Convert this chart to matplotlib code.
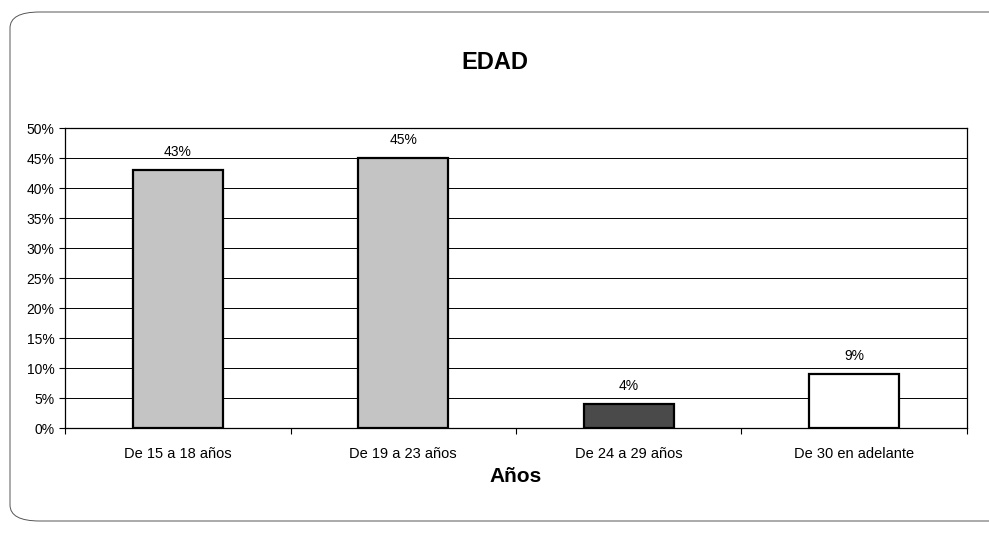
import matplotlib
matplotlib.use("Agg")
import matplotlib.pyplot as plt
from matplotlib.patches import FancyBboxPatch
from matplotlib.ticker import FixedLocator, PercentFormatter

plt.rcParams["font.family"] = ["Liberation Sans", "DejaVu Sans"]

categories = ["De 15 a 18 años", "De 19 a 23 años", "De 24 a 29 años", "De 30 en adelante"]
values = [43, 45, 4, 9]
labels = ["43%", "45%", "4%", "9%"]
bar_colors = ["#c4c4c4", "#c4c4c4", "#4a4a4a", "#ffffff"]
y_ticks = [0, 5, 10, 15, 20, 25, 30, 35, 40, 45, 50]

fig = plt.figure(figsize=(9.89, 5.35), dpi=100)
ax = fig.add_axes([65 / 989, 1 - 428 / 535, 902 / 989, 300 / 535])

# outer chart frame with rounded corners
frame = FancyBboxPatch(
    (10 / 989, 14 / 535), 1.2, 1 - 26 / 535,
    boxstyle="round,pad=0,rounding_size=0.03",
    transform=fig.transFigure, fill=False, edgecolor="#555555", linewidth=0.7,
    clip_on=False,
)
fig.patches.append(frame)

x = list(range(len(categories)))
ax.bar(x, values, width=0.4, color=bar_colors, edgecolor="black", linewidth=1.6, zorder=3)

for xi, v, lab in zip(x, values, labels):
    ax.text(xi, v + 1.8, lab, ha="center", va="bottom", fontsize=10, zorder=4)

ax.set_xlim(-0.5, 3.5)
ax.set_ylim(0, 50)
ax.yaxis.set_major_locator(FixedLocator(y_ticks))
ax.yaxis.set_major_formatter(PercentFormatter(decimals=0))
ax.grid(axis="y", color="black", linewidth=0.7, zorder=0)

ax.set_xticks(x)
ax.set_xticklabels(categories, fontsize=10.5)
ax.xaxis.set_minor_locator(FixedLocator([-0.5, 0.5, 1.5, 2.5, 3.5]))
ax.tick_params(axis="x", which="major", length=0, pad=14)
ax.tick_params(axis="x", which="minor", length=4, width=0.8)
ax.tick_params(axis="y", length=4, width=0.8, labelsize=10)

for s in ax.spines.values():
    s.set_linewidth(0.9)

ax.set_xlabel("Años", fontsize=15, fontweight="bold", labelpad=4)
fig.text(0.5, 1 - 62 / 535, "EDAD", ha="center", va="center", fontsize=17, fontweight="bold")

fig.savefig("out.png", dpi=100)
